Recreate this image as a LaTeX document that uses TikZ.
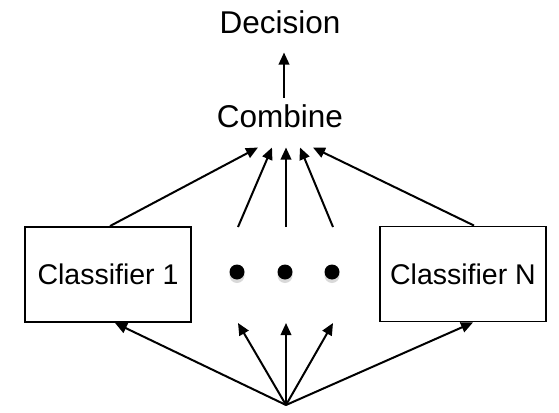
\documentclass[tikz,border=0pt]{standalone}
\usepackage{fontspec}
\setmainfont{Liberation Sans}
\usetikzlibrary{arrows.meta,shadows}

\tikzset{
  bigtext/.style={font=\fontsize{31.5}{36}\selectfont, inner sep=0pt},
  classbox/.style={draw, black, line width=1.9pt, minimum width=166pt, minimum height=95pt,
    font=\fontsize{28.5}{34}\selectfont, inner sep=0pt},
  blackdot/.style={circle, fill=black, minimum size=15pt, inner sep=0pt,
    drop shadow={shadow xshift=0pt, shadow yshift=-3.5pt, opacity=0.3}},
  link/.style={black, line width=2pt, -{Triangle[length=12pt,width=10.5pt]}}
}

\begin{document}
\begin{tikzpicture}[x=1pt, y=-1pt]
\useasboundingbox (0,0) rectangle (559,412);
\node[bigtext, anchor=base] (decision) at (280,34) {Decision};
\node[bigtext, anchor=base] (combine) at (280,127) {Combine};
\node[classbox] (clf1) at (108,274.5) {Classifier 1};
\node[classbox] (clfN) at (463,274) {Classifier N};
\foreach \x/\n in {237/1,285/2,332/3}{
	\node[blackdot] (dot\n) at (\x,272) {};
}
% entry points under Combine
\foreach \dx/\n in {-22/1,-8/2,6/3,20/4,33/5}{
	\coordinate (in\n) at ([xshift=\dx pt, yshift=-20pt]combine.south);
}
\coordinate (src) at (286,405);

\draw[link] ([xshift=4pt, yshift=6pt]combine.north) -- ([xshift=4pt, yshift=-18pt]decision.south);

\draw[link] ([xshift=2pt]clf1.north) -- (in1);
\draw[link] ([xshift=1pt, yshift=45pt]dot1.center) -- (in2);
\draw[link] ([xshift=1pt, yshift=45pt]dot2.center) -- (in3);
\draw[link] ([xshift=1pt, yshift=45pt]dot3.center) -- (in4);
\draw[link] ([xshift=11pt]clfN.north) -- (in5);

\draw[link] (src) -- ([xshift=7pt]clf1.south);
\foreach \n in {1,2,3}{
	\draw[link] (src) -- ([xshift=1pt, yshift=-51pt]dot\n.center);
}
\draw[link] (src) -- ([xshift=10pt]clfN.south);
\end{tikzpicture}
\end{document}
